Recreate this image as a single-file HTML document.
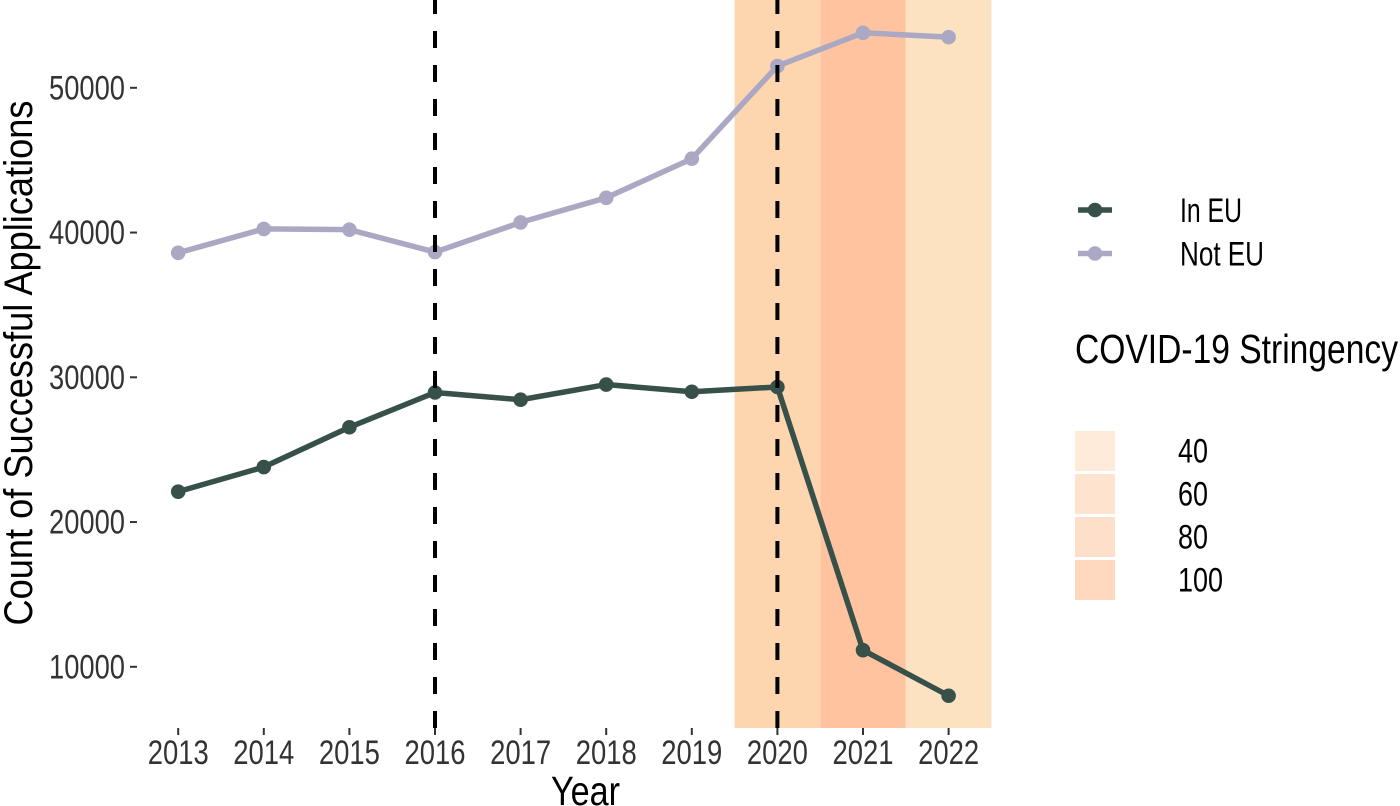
<!DOCTYPE html>
<html lang="en">
<head>
<meta charset="utf-8">
<title>Successful Applications by Year</title>
<style>
html,body{margin:0;padding:0;background:#fff;width:1400px;height:806px;overflow:hidden}
svg{display:block}
text{font-family:"Liberation Sans Narrow","Liberation Sans",sans-serif}
</style>
</head>
<body>
<svg id="chart" width="1400" height="806" viewBox="0 0 1400 806" xmlns="http://www.w3.org/2000/svg"></svg>
<script>
const years = [2013, 2014, 2015, 2016, 2017, 2018, 2019, 2020, 2021, 2022];
const inEU = [22100, 23800, 26550, 28950, 28450, 29500, 29000, 29330, 11150, 8000];
const notEU = [38600, 40250, 40200, 38650, 40700, 42400, 45100, 51500, 53800, 53500];
const yTicks = [10000, 20000, 30000, 40000, 50000];
const eventYears = [2016, 2020];
const stringencyYears = [2020, 2021, 2022];
const stringencyValues = [60, 80, 40];
const legendSeries = ['In EU', 'Not EU'];
const legendStringency = [40, 60, 80, 100];

const svg = document.getElementById('chart');
const NS = 'http://www.w3.org/2000/svg';
const x = v => 178.2 + (v - 2013) * 85.6;
const y = v => 666.8 - (v - 10000) * 0.014475;
const panelBottom = 728;
const colorIn = '#37504A';
const colorNot = '#ABA8C3';

function bandColor(v) {
  if (v >= 80) return '#FFC49F';
  if (v >= 60) return '#FDD5AE';
  return '#FCE2C0';
}
function keyColor(v) {
  if (v >= 100) return '#FED9C0';
  if (v >= 80) return '#FEDFCA';
  if (v >= 60) return '#FEE3CF';
  return '#FEEBD9';
}
function make(tag, attrs, parent) {
  const el = document.createElementNS(NS, tag);
  for (const k in attrs) el.setAttribute(k, attrs[k]);
  (parent || svg).appendChild(el);
  return el;
}
function label(str, attrs, fit) {
  const el = make('text', attrs);
  el.textContent = str;
  if (fit) {
    el.setAttribute('textLength', fit);
    el.setAttribute('lengthAdjust', 'spacingAndGlyphs');
  }
  return el;
}

// stringency bands
stringencyYears.forEach((yr, i) => {
  const r = make('rect', {x: x(yr) - 42.8, y: 0, width: 85.6, height: panelBottom, fill: bandColor(stringencyValues[i])});
  
  
});

// x ticks and labels
years.forEach(yr => {
  const t = make('line', {x1: x(yr), x2: x(yr), y1: panelBottom, y2: panelBottom + 7, stroke: '#333', 'stroke-width': 2});
  
  
  const l = label(String(yr), {x: x(yr), y: 764, 'text-anchor': 'middle', 'font-size': 34, fill: '#333'}, 61);
  
  
});

// y ticks and labels
yTicks.forEach(v => {
  const t = make('line', {x1: 130, x2: 137, y1: y(v), y2: y(v), stroke: '#333', 'stroke-width': 2});
  
  
  const l = label(String(v), {x: 125, y: y(v) + 11.5, 'text-anchor': 'end', 'font-size': 34, fill: '#333'}, 76);
  
  
});

// series
function drawSeries(values, color, name) {
  const g = make('g', {});
  
  
  const pts = values.map((v, i) => x(years[i]) + ',' + y(v)).join(' ');
  const line = make('polyline', {points: pts, fill: 'none', stroke: color, 'stroke-width': 5.5, 'stroke-linejoin': 'round'}, g);
  
  
  values.forEach((v, i) => {
    const c = make('circle', {cx: x(years[i]), cy: y(v), r: 7.3, fill: color}, g);
    
    
  });
}
drawSeries(inEU, colorIn, 'in-eu');
drawSeries(notEU, colorNot, 'not-eu');

// dashed event lines
eventYears.forEach(yr => {
  const d = make('line', {x1: x(yr), x2: x(yr), y1: panelBottom, y2: 0, stroke: '#000', 'stroke-width': 4, 'stroke-dasharray': '17 17'});
  
  
});

// axis titles
const xt = label('Year', {x: 585.5, y: 805, 'text-anchor': 'middle', 'font-size': 41, fill: '#000'}, 69);


const yt = label('Count of Successful Applications', {transform: 'translate(32,363) rotate(-90)', x: 0, y: 0, 'text-anchor': 'middle', 'font-size': 40, fill: '#000'}, 525);



// series legend
legendSeries.forEach((s, i) => {
  const ly = 210 + i * 43.5;
  const color = i === 0 ? colorIn : colorNot;
  const ln = make('line', {x1: 1078, x2: 1112, y1: ly, y2: ly, stroke: color, 'stroke-width': 5.5});
  
  
  const c = make('circle', {cx: 1095, cy: ly, r: 7.3, fill: color});
  
  
  const t = label(s, {x: 1180, y: ly + 12, 'font-size': 34, fill: '#000'}, i === 0 ? 62 : 84);
  
  
});

// stringency legend
const lt = label('COVID-19 Stringency', {x: 1075, y: 363, 'font-size': 41, fill: '#000'}, 323);


legendStringency.forEach((v, i) => {
  const top = 431 + i * 43;
  const r = make('rect', {x: 1075, y: top, width: 40, height: 40, fill: keyColor(v)});
  
  
  const t = label(String(v), {x: 1178, y: top + 31.5, 'font-size': 34, fill: '#000'}, v === 100 ? 45 : 30);
  
  
});
</script>
</body>
</html>
